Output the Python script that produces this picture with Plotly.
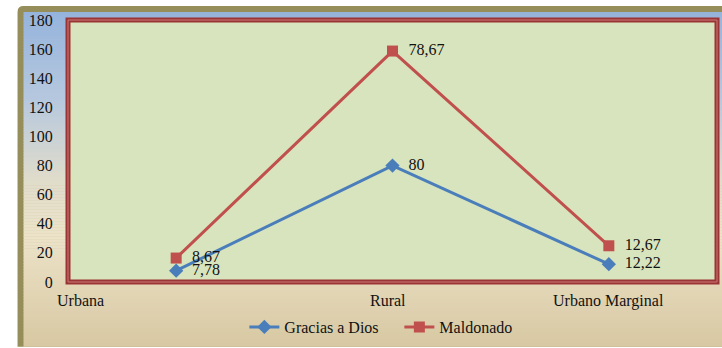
import plotly.graph_objects as go

categories = ["Urbana", "Rural", "Urbano Marginal"]
gracias = [7.78, 80, 12.22]
maldonado = [8.67, 78.67, 12.67]
y_ticks = [0, 20, 40, 60, 80, 100, 120, 140, 160, 180]
x_label_pos = [-0.44, 0.98, 2.0]

W, H = 722, 348
L, R, T, B = 67.5, 717.0, 20.0, 283.0
FONT = "Liberation Serif, Times New Roman, serif"
FS = 16


def px(x):
    return (x - L) / (R - L)


def py(y):
    return (B - y) / (B - T)


def fmt(v):
    s = ("%.2f" % v).rstrip("0").rstrip(".")
    return "\u00a0\u00a0" + s.replace(".", ",")


fig = go.Figure()
fig.add_trace(go.Scatter(
    x=categories, y=gracias, name="Gracias a Dios", stackgroup="s", fill="none",
    mode="lines+markers+text", text=[fmt(v) for v in gracias], textposition="middle right",
    textfont=dict(family=FONT, size=FS, color="#111"),
    line=dict(color="#4a7ebb", width=3), marker=dict(symbol="diamond", size=11, color="#4a7ebb"),
))
fig.add_trace(go.Scatter(
    x=categories, y=maldonado, name="Maldonado", stackgroup="s", fill="none",
    mode="lines+markers+text", text=[fmt(v) for v in maldonado], textposition="middle right",
    textfont=dict(family=FONT, size=FS, color="#111"),
    line=dict(color="#c0504d", width=3), marker=dict(symbol="square", size=11, color="#c0504d"),
))

shapes = []
r = 6
shapes.append(dict(type="path", xref="paper", yref="paper", layer="below",
                   path=f"M {px(17)},{py(348)} L {px(17)},{py(6 + r)} Q {px(17)},{py(6)} {px(17 + r)},{py(6)} L {px(722)},{py(6)} L {px(722)},{py(348)} Z",
                   fillcolor="#968e5a", line=dict(width=0)))
stops = [(12, (149, 179, 220)), (100, (182, 200, 222)), (180, (224, 220, 203)),
         (235, (236, 227, 201)), (348, (216, 200, 162))]
step = 3
yy = 12
while yy < 348:
    yc = yy + step / 2
    for i in range(len(stops) - 1):
        a, b = stops[i], stops[i + 1]
        if a[0] <= yc <= b[0] or (i == len(stops) - 2):
            t = max(0, min(1, (yc - a[0]) / (b[0] - a[0])))
            c = tuple(int(round(a[1][k] + (b[1][k] - a[1][k]) * t)) for k in range(3))
            break
    shapes.append(dict(type="rect", xref="paper", yref="paper", layer="below",
                       x0=px(23), x1=px(722), y0=py(yy), y1=py(min(yy + step + 0.5, 348)),
                       fillcolor="rgb(%d,%d,%d)" % c, line=dict(width=0)))
    yy += step
shapes.append(dict(type="rect", xref="paper", yref="paper", layer="below",
                   x0=0, x1=1, y0=0, y1=1, fillcolor="#d8e4bd", line=dict(width=0)))
shapes.append(dict(type="rect", xref="paper", yref="paper", layer="below",
                   x0=0, x1=1, y0=0, y1=1, fillcolor="rgba(0,0,0,0)",
                   line=dict(color="#9b3434", width=5)))
shapes.append(dict(type="rect", xref="paper", yref="paper", layer="below",
                   x0=0, x1=1, y0=0, y1=1, fillcolor="rgba(0,0,0,0)",
                   line=dict(color="#c97a78", width=1)))

annotations = []
for lab, xp in zip(categories, x_label_pos):
    annotations.append(dict(x=xp, y=py(302), xref="x", yref="paper", text=lab,
                            showarrow=False, xanchor="center", yanchor="middle",
                            font=dict(family=FONT, size=FS, color="#111")))

fig.update_layout(
    width=W, height=H, margin=dict(l=L, r=W - R, t=T, b=H - B),
    paper_bgcolor="white", plot_bgcolor="rgba(0,0,0,0)",
    shapes=shapes, annotations=annotations,
    xaxis=dict(type="category", range=[-0.5, 2.5], showticklabels=False, showgrid=False,
               zeroline=False, showline=False, ticks=""),
    yaxis=dict(range=[0, 180], tickvals=y_ticks, showgrid=False, zeroline=False, showline=False,
               ticks="outside", ticklen=11, tickcolor="rgba(0,0,0,0)",
               tickfont=dict(family=FONT, size=FS, color="#111")),
    showlegend=True,
    legend=dict(orientation="h", x=px(244), xanchor="left", y=py(327), yanchor="middle",
                bgcolor="rgba(0,0,0,0)", font=dict(family=FONT, size=FS, color="#111"),
                traceorder="normal", entrywidth=110, itemwidth=30),
)

fig.write_html("out.html")
